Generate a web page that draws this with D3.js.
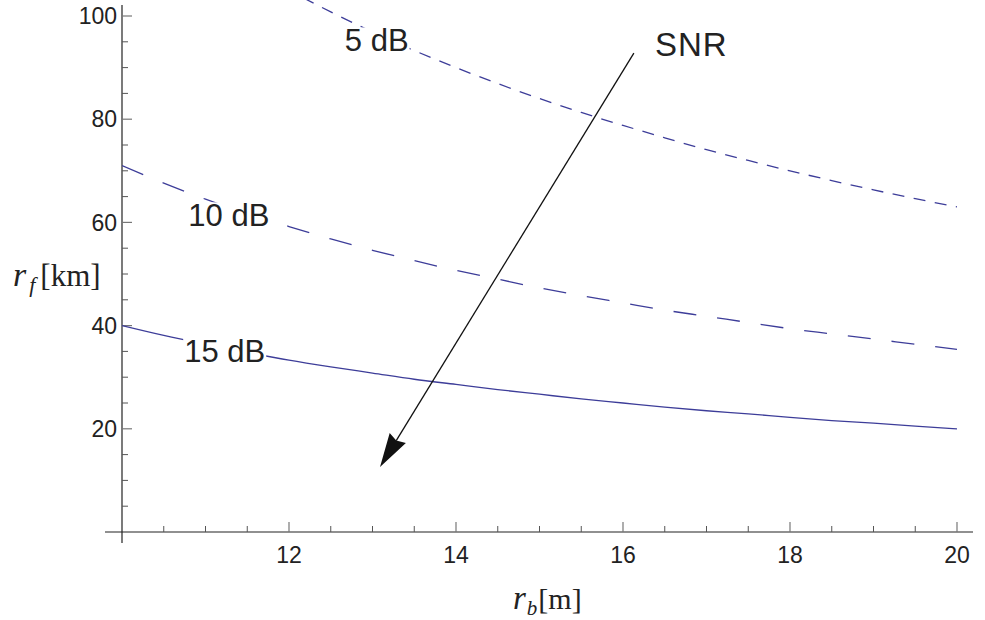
<!DOCTYPE html>
<html>
<head>
<meta charset="utf-8">
<script src="https://cdn.jsdelivr.net/npm/d3@7"></script>
<style>
  html, body { margin: 0; padding: 0; background: #fff; }
  svg { display: block; }
</style>
</head>
<body>
<svg id="chart" width="985" height="620"></svg>
<script>
// ---- data ----
const rb = [10, 10.5, 11, 11.5, 12, 12.5, 13, 13.5, 14, 14.5, 15, 15.5, 16, 16.5, 17, 17.5, 18, 18.5, 19, 19.5, 20];
const rf5dB  = [126, 120, 114.5, 109.6, 105, 100.8, 96.9, 93.3, 90, 86.9, 84, 81.3, 78.8, 76.4, 74.1, 72, 70, 68.1, 66.3, 64.6, 63];
const rf10dB = [71, 67.6, 64.5, 61.7, 59.2, 56.8, 54.6, 52.6, 50.7, 49, 47.3, 45.8, 44.4, 43, 41.8, 40.6, 39.4, 38.4, 37.4, 36.4, 35.4];
const rf15dB = [40, 38.1, 36.4, 34.8, 33.3, 32, 30.8, 29.6, 28.6, 27.6, 26.7, 25.8, 25, 24.2, 23.5, 22.9, 22.2, 21.6, 21.1, 20.5, 20];
const seriesNames = ["5 dB", "10 dB", "15 dB"];
const xTickValues = [12, 14, 16, 18, 20];
const yTickValues = [20, 40, 60, 80, 100];
// label anchors (data coordinates)
const labelX = [13.05, 11.28, 11.23];
const labelY = [95.3, 61.4, 35.1];
// arrow annotation (data coordinates)
const arrowFrom = [16.13, 92.8];
const arrowTo = [13.09, 12.6];
const arrowText = "SNR";

// ---- layout ----
const svg = d3.select("#chart");
const color = "#3d3d99";
const x = d3.scaleLinear().domain([10, 20]).range([122, 957]);
const y = d3.scaleLinear().domain([0, 100]).range([532, 16]);

svg.append("defs").append("clipPath").attr("id", "plotclip")
  .append("rect").attr("x", x(10)).attr("y", 0).attr("width", x(20) - x(10)).attr("height", y(0));

// ---- axes ----
const axisG = svg.append("g");
axisG.append("line").attr("x1", 105).attr("x2", 973).attr("y1", y(0)).attr("y2", y(0))
  .attr("stroke", "#222").attr("stroke-width", 1.2);
axisG.append("line").attr("x1", x(10)).attr("x2", x(10)).attr("y1", 5).attr("y2", 543)
  .attr("stroke", "#222").attr("stroke-width", 1.2);

// x ticks
const xMinor = d3.range(10.5, 20.01, 0.5).filter(v => !xTickValues.includes(v));
axisG.selectAll(".xminor").data(xMinor).join("line")
  .attr("x1", d => x(d)).attr("x2", d => x(d)).attr("y1", y(0)).attr("y2", y(0) - 6)
  .attr("stroke", "#555").attr("stroke-width", 1);
axisG.selectAll(".xmajor").data(xTickValues).join("line")
  .attr("x1", d => x(d)).attr("x2", d => x(d)).attr("y1", y(0)).attr("y2", y(0) - 10)
  .attr("stroke", "#777").attr("stroke-width", 1.2);
axisG.selectAll(".xlab").data(xTickValues).join("text")
  .attr("x", d => x(d)).attr("y", 563)
  .attr("text-anchor", "middle")
  .attr("font-family", "Liberation Sans, Arial, sans-serif").attr("font-size", 23)
  .attr("fill", "#222").text(d => d);

// y ticks
const yMinor = d3.range(5, 101, 5).filter(v => !yTickValues.includes(v));
axisG.selectAll(".yminor").data(yMinor).join("line")
  .attr("x1", x(10)).attr("x2", x(10) + 6).attr("y1", d => y(d)).attr("y2", d => y(d))
  .attr("stroke", "#555").attr("stroke-width", 1);
axisG.selectAll(".ymajor").data(yTickValues).join("line")
  .attr("x1", x(10)).attr("x2", x(10) + 10).attr("y1", d => y(d)).attr("y2", d => y(d))
  .attr("stroke", "#777").attr("stroke-width", 1.2);
axisG.selectAll(".ylab").data(yTickValues).join("text")
  .attr("x", 117).attr("y", d => y(d)).attr("dy", "0.36em")
  .attr("text-anchor", "end")
  .attr("font-family", "Liberation Sans, Arial, sans-serif").attr("font-size", 23)
  .attr("fill", "#222").text(d => d);

// ---- curves ----
const series = [rf5dB, rf10dB, rf15dB];
const dashes = ["12,9.5", "23,21", null];
const line = d3.line().x(d => x(d[0])).y(d => y(d[1])).curve(d3.curveMonotoneX);
const curvesG = svg.append("g").attr("clip-path", "url(#plotclip)");
series.forEach((vals, i) => {
  const pts = rb.map((v, j) => [v, vals[j]]);
  curvesG.append("path").datum(pts)
    .attr("d", line)
    .attr("fill", "none").attr("stroke", color).attr("stroke-width", 1.3)
    .attr("stroke-dasharray", dashes[i]);
});

// ---- curve labels ----
seriesNames.forEach((name, i) => {
  const g = svg.append("g");
  const t = g.append("text")
    .attr("x", x(labelX[i])).attr("y", y(labelY[i])).attr("dy", "0.36em")
    .attr("text-anchor", "middle")
    .attr("font-family", "Liberation Sans, Arial, sans-serif").attr("font-size", 31)
    .attr("fill", "#222").text(name);
  const bb = t.node().getBBox();
  g.insert("rect", "text")
    .attr("x", bb.x - 1).attr("y", bb.y + 4).attr("width", bb.width + 2).attr("height", bb.height - 8)
    .attr("fill", "#fff");
});

// ---- arrow ----
const ax1 = x(arrowFrom[0]), ay1 = y(arrowFrom[1]);
const ax2 = x(arrowTo[0]), ay2 = y(arrowTo[1]);
const ang = Math.atan2(ay2 - ay1, ax2 - ax1);
const headLen = 34, headHalf = 9.5, notch = 3;
const ux = Math.cos(ang), uy = Math.sin(ang), px = -uy, py = ux;
const bx = ax2 - ux * headLen, by = ay2 - uy * headLen;
svg.append("line").attr("x1", ax1).attr("y1", ay1).attr("x2", bx + ux * notch).attr("y2", by + uy * notch)
  .attr("stroke", "#111").attr("stroke-width", 1.3);
svg.append("path")
  .attr("d", `M${ax2},${ay2} L${bx + px * headHalf},${by + py * headHalf} L${bx + ux * notch},${by + uy * notch} L${bx - px * headHalf},${by - py * headHalf} Z`)
  .attr("fill", "#111");
svg.append("text")
  .attr("x", 655).attr("y", 56)
  .attr("font-family", "Liberation Sans, Arial, sans-serif").attr("font-size", 33)
  .attr("letter-spacing", 1)
  .attr("fill", "#222").text(arrowText);

// ---- axis titles ----
const serif = "Liberation Serif, Times New Roman, serif";
const yTitle = svg.append("text").attr("x", 13).attr("y", 286)
  .attr("font-family", serif).attr("font-size", 31).attr("fill", "#222");
yTitle.append("tspan").attr("font-style", "italic").attr("font-size", 34).text("r");
yTitle.append("tspan").attr("font-style", "italic").attr("font-size", 22).attr("dy", 6).attr("dx", 3).text("f");
yTitle.append("tspan").attr("dy", -6).attr("dx", 5).text("[km]");

const xTitle = svg.append("text").attr("x", 513).attr("y", 609)
  .attr("font-family", serif).attr("font-size", 30).attr("fill", "#222");
xTitle.append("tspan").attr("font-style", "italic").attr("font-size", 33).text("r");
xTitle.append("tspan").attr("font-style", "italic").attr("font-size", 21).attr("dy", 6).attr("dx", 1).text("b");
xTitle.append("tspan").attr("dy", -6).attr("dx", 1).text("[m]");
</script>
</body>
</html>
